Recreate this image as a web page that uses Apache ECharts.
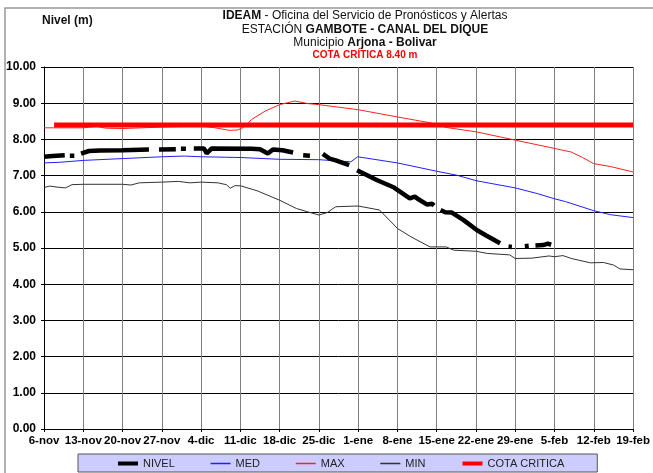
<!DOCTYPE html>
<html>
<head>
<meta charset="utf-8">
<script src="https://cdn.jsdelivr.net/npm/echarts@6/dist/echarts.min.js"></script>
<style>
html,body{margin:0;padding:0;background:#fff;}
#chart{width:653px;height:473px;}
</style>
</head>
<body>
<div id="chart"></div>
<script>
// ---- Data (x = days since 6-nov) ----
var tickLabels = ['6-nov','13-nov','20-nov','27-nov','4-dic','11-dic','18-dic','25-dic','1-ene','8-ene','15-ene','22-ene','29-ene','5-feb','12-feb','19-feb'];

// NIVEL observed level, as separate segments (gaps = missing data)
var nivelSegments = [
  [[0,7.52],[1.5,7.54],[3.7,7.56]],
  [[4.6,7.55],[5.4,7.55]],
  [[6.6,7.61],[8.0,7.68],[10,7.69],[14,7.70],[18.7,7.72]],
  [[20.5,7.72],[23.5,7.73]],
  [[24.4,7.74],[25.3,7.74]],
  [[26.7,7.75],[28.5,7.75],[29.0,7.61],[29.9,7.75],[37,7.74],[38.5,7.73],[39.9,7.61],[40.8,7.72],[42.5,7.70],[44.4,7.64]],
  [[46.2,7.56],[47.4,7.55]],
  [[49.7,7.60],[50.9,7.47],[52,7.42],[54.4,7.29]],
  [[55.8,7.15],[59.4,6.87],[62.4,6.67],[65.2,6.37],[66.1,6.42],[66.6,6.36],[68.3,6.20],[69.2,6.22],[69.5,6.17]],
  [[70.7,6.05],[71.5,5.99],[72.7,5.98],[74.8,5.77],[77.2,5.49],[78.9,5.34],[81.3,5.13]],
  [[82.8,5.04],[83.4,5.03]],
  [[85.7,5.05],[86.4,5.06]],
  [[87.6,5.07],[89,5.08],[89.8,5.12],[90.4,5.09]]
];

var medData = [[0,7.35],[3,7.37],[7,7.42],[14,7.47],[21,7.52],[25,7.54],[28,7.52],[35,7.50],[42,7.45],[49,7.44],[54.7,7.38],[55.9,7.52],[63,7.35],[70,7.12],[73.6,7.01],[77,6.86],[84,6.66],[88,6.50],[91,6.36],[93,6.28],[98,6.03],[101,5.92],[105,5.84]];

var maxData = [[0,8.32],[7,8.32],[9.4,8.36],[11,8.31],[14,8.30],[21,8.34],[28,8.37],[30.5,8.32],[33,8.25],[34.5,8.26],[35.5,8.33],[37,8.55],[39.4,8.78],[42,8.96],[44.7,9.06],[47,8.99],[49,8.96],[56,8.82],[63,8.62],[68.8,8.46],[71.7,8.33],[77,8.21],[84,7.98],[91,7.75],[94,7.65],[96,7.50],[98,7.33],[101,7.25],[105,7.10]];

var minData = [[0,6.67],[1,6.71],[2.5,6.68],[3.8,6.66],[5,6.75],[7,6.76],[14,6.76],[15.5,6.74],[17,6.80],[21,6.82],[24,6.84],[26,6.80],[28,6.82],[31,6.80],[32.5,6.75],[33.2,6.65],[34,6.72],[35,6.72],[38,6.58],[42,6.32],[45,6.09],[47,6.00],[49,5.91],[50.5,5.98],[52,6.14],[56,6.16],[59.8,6.05],[63,5.54],[65.4,5.31],[68.8,5.03],[71.7,5.03],[73,4.94],[77,4.91],[79,4.85],[83,4.81],[84,4.71],[87,4.72],[90,4.78],[91,4.76],[92.5,4.79],[94,4.71],[97.4,4.59],[99.7,4.60],[101.5,4.53],[102.7,4.42],[105,4.40]];

var cotaCritica = 8.40;
var cotaDays = [1.8, 105];

var seriesNames = ['NIVEL', 'MED', 'MAX', 'MIN', 'COTA CRITICA'];

// ---- Build ----
var nivelData = [];
nivelSegments.forEach(function (seg, i) {
  if (i > 0) nivelData.push([seg[0][0] - 0.05, '-']);
  seg.forEach(function (p) { nivelData.push(p); });
});
var cotaData = cotaDays.map(function (d) { return [d, cotaCritica]; });

var styles = {
  'NIVEL':        { color: '#000000', width: 4.5, legendWidth: 4 },
  'MED':          { color: '#2020ff', width: 1,   legendWidth: 1.5 },
  'MAX':          { color: '#ff2222', width: 1,   legendWidth: 1.5 },
  'MIN':          { color: '#333333', width: 1,   legendWidth: 1.5 },
  'COTA CRITICA': { color: '#ff0000', width: 5,   legendWidth: 4 }
};
function lineSeries(name, data, z) {
  return { name: name, type: 'line', data: data, symbol: 'none', connectNulls: false,
    color: styles[name].color,
    lineStyle: { color: styles[name].color, width: styles[name].width },
    itemStyle: { color: styles[name].color }, z: z };
}

var FONT = 'Liberation Sans, Arial, sans-serif';
var chart = echarts.init(document.getElementById('chart'), null, {renderer: 'canvas'});
var option = {
  animation: false,
  backgroundColor: '#fff',
  title: {
    left: 365, top: 9, textAlign: 'center', itemGap: 0, padding: 0,
    text: '{b|IDEAM} - Oficina del Servicio de Pronósticos y Alertas\nESTACIÓN {b|GAMBOTE - CANAL DEL DIQUE}\nMunicipio {b|Arjona - Bolivar}',
    textStyle: {
      fontFamily: FONT, fontSize: 12, fontWeight: 'normal', color: '#111', lineHeight: 13.5,
      rich: { b: { fontFamily: FONT, fontSize: 12, fontWeight: 'bold', color: '#111', lineHeight: 13.5 } }
    },
    subtext: 'COTA CRÍTICA 8.40 m',
    subtextStyle: { fontFamily: FONT, fontSize: 10, fontWeight: 'bold', color: '#ff0000', lineHeight: 12 }
  },
  graphic: [
    { type: 'rect', shape: {x: 5, y: 8, width: 700, height: 500}, style: {fill: 'none', stroke: '#999', lineWidth: 1.5}, silent: true },
    { type: 'text', left: 42, top: 15, style: { text: 'Nivel (m)', fontFamily: FONT, fontSize: 12, fontWeight: 'bold', fill: '#111' } }
  ],
  legend: {
    left: 78, top: 454,
    padding: [4, 33, 3, 38],
    itemGap: 35, itemWidth: 20, itemHeight: 11,
    itemStyle: { opacity: 0 },
    backgroundColor: '#ccccff', borderColor: '#555', borderWidth: 1,
    textStyle: { fontFamily: FONT, fontSize: 11, color: '#222' },
    data: seriesNames.map(function (n) {
      return { name: n, lineStyle: { width: styles[n].legendWidth, color: styles[n].color, opacity: 1 } };
    })
  },
  grid: { left: 44, right: 16, top: 67, bottom: 44, containLabel: false },
  xAxis: {
    type: 'value', min: 0, max: 105, interval: 7,
    axisLine: { show: true, lineStyle: { color: '#000', width: 1 } },
    axisTick: { show: true, length: 3, lineStyle: { color: '#000' } },
    axisLabel: {
      fontFamily: FONT, fontSize: 11.5, fontWeight: 'bold', color: '#000', margin: 6,
      showMinLabel: true, showMaxLabel: true, hideOverlap: false,
      formatter: function (v) { return tickLabels[Math.round(v / 7)]; }
    },
    splitLine: { show: true, lineStyle: { color: '#808080', width: 1 } }
  },
  yAxis: {
    type: 'value', min: 0, max: 10, interval: 1,
    axisLine: { show: true, lineStyle: { color: '#000', width: 1 } },
    axisTick: { show: true, length: 3, lineStyle: { color: '#000' } },
    axisLabel: {
      fontFamily: FONT, fontSize: 12, fontWeight: 'bold', color: '#000', margin: 8,
      formatter: function (v) { return v.toFixed(2); }
    },
    splitLine: { show: true, lineStyle: { color: '#000', width: 1 } }
  },
  series: [
    lineSeries('MED', medData, 3),
    lineSeries('MAX', maxData, 3),
    lineSeries('MIN', minData, 3),
    lineSeries('COTA CRITICA', cotaData, 4),
    lineSeries('NIVEL', nivelData, 5)
  ]
};
chart.setOption(option);
</script>
</body>
</html>
